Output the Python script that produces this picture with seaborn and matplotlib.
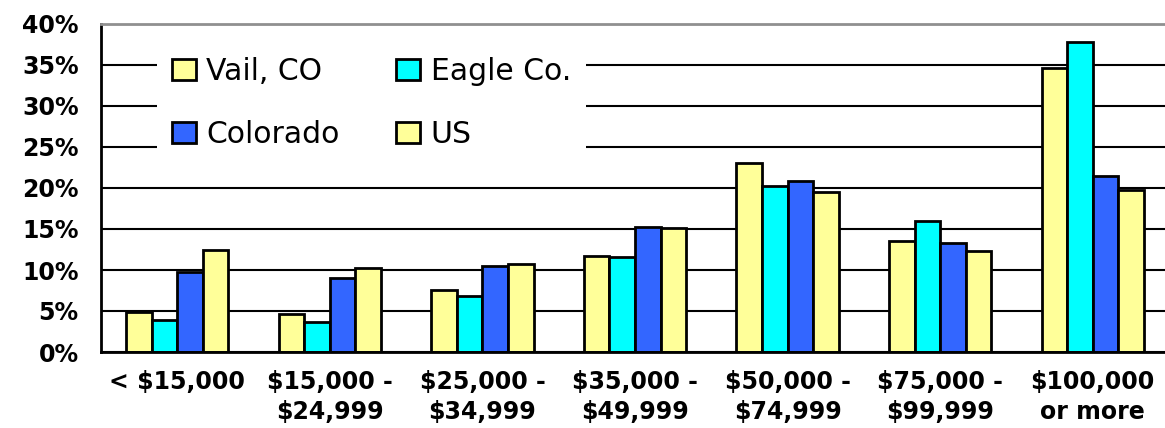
import numpy as np
import pandas as pd
import seaborn as sns
import matplotlib
matplotlib.use("Agg")
import matplotlib.pyplot as plt
from matplotlib.ticker import FixedLocator

# income brackets and share of households (%)
categories = ["< $15,000", "$15,000 -\n$24,999", "$25,000 -\n$34,999", "$35,000 -\n$49,999",
              "$50,000 -\n$74,999", "$75,000 -\n$99,999", "$100,000\nor more"]
vail = [4.9, 4.6, 7.6, 11.7, 23.0, 13.5, 34.6]
eagle = [3.9, 3.7, 6.8, 11.6, 20.2, 16.0, 37.8]
colorado = [9.8, 9.0, 10.5, 15.3, 20.9, 13.3, 21.5]
us = [12.4, 10.2, 10.7, 15.1, 19.5, 12.3, 19.8]
series = ["Vail, CO", "Eagle Co.", "Colorado", "US"]
colors = {"Vail, CO": "#FFFF99", "Eagle Co.": "#00FFFF", "Colorado": "#3366FF", "US": "#FFFF99"}

rows = []
for name, vals in zip(series, [vail, eagle, colorado, us]):
    for c, v in zip(categories, vals):
        rows.append({"Income": c, "Area": name, "Pct": v})
df = pd.DataFrame(rows)

sns.set_style("white")
plt.rcParams["font.family"] = ["DejaVu Sans"]
plt.rcParams["text.parse_math"] = False
plt.rcParams["text.color"] = "black"
plt.rcParams["xtick.color"] = "black"
plt.rcParams["ytick.color"] = "black"

fig = plt.figure(figsize=(11.65, 4.28), dpi=100)
ax = fig.add_axes([101 / 1165, 1 - 352 / 428, 1 - 101 / 1165, 328 / 428])

sns.barplot(data=df, x="Income", y="Pct", hue="Area", palette=colors, order=categories,
            hue_order=series, width=0.67, saturation=1, edgecolor="black", linewidth=2,
            errorbar=None, ax=ax)

ax.set_ylim(0, 40)
ax.set_xlim(-0.5, 6.474)
ax.set_yticks(np.arange(0, 41, 5))
ax.set_yticklabels([f"{v}%" for v in range(0, 41, 5)], fontsize=17, fontweight="bold")
ax.set_xticks(range(len(categories)))
ax.set_xticklabels(categories, fontsize=17, fontweight="bold", linespacing=1.3)
ax.xaxis.set_minor_locator(FixedLocator(np.arange(-0.5, 7, 1)))
ax.tick_params(axis="x", which="major", length=0, pad=13)
ax.tick_params(axis="x", which="minor", length=7, width=2, color="black", direction="out")
ax.tick_params(axis="y", length=9, width=2, color="black", direction="out", pad=7)
ax.set_xlabel("")
ax.set_ylabel("")

ax.set_axisbelow(True)
ax.yaxis.grid(True, color="black", linewidth=1.5)
for s in ["left", "bottom"]:
    ax.spines[s].set_color("black")
    ax.spines[s].set_linewidth(2)
ax.spines["right"].set_visible(False)
ax.spines["top"].set_color("#909090")
ax.spines["top"].set_linewidth(2)

handles, labels = ax.get_legend_handles_labels()
ax.get_legend().remove()
idx = [0, 2, 1, 3]
for h in handles:
    h.set_edgecolor("black")
    h.set_linewidth(2)
leg = ax.legend([handles[i] for i in idx], [labels[i] for i in idx], ncol=2,
                loc="upper left", bbox_to_anchor=(0.0526, 0.946), borderaxespad=0,
                fontsize=21.5, frameon=True, fancybox=False, framealpha=1,
                edgecolor="white", borderpad=0.5, handlelength=0.8, handleheight=0.7,
                handletextpad=0.35, labelspacing=1.15, columnspacing=1.9)
leg.get_frame().set_linewidth(0)

fig.savefig("out.png", dpi=100)
